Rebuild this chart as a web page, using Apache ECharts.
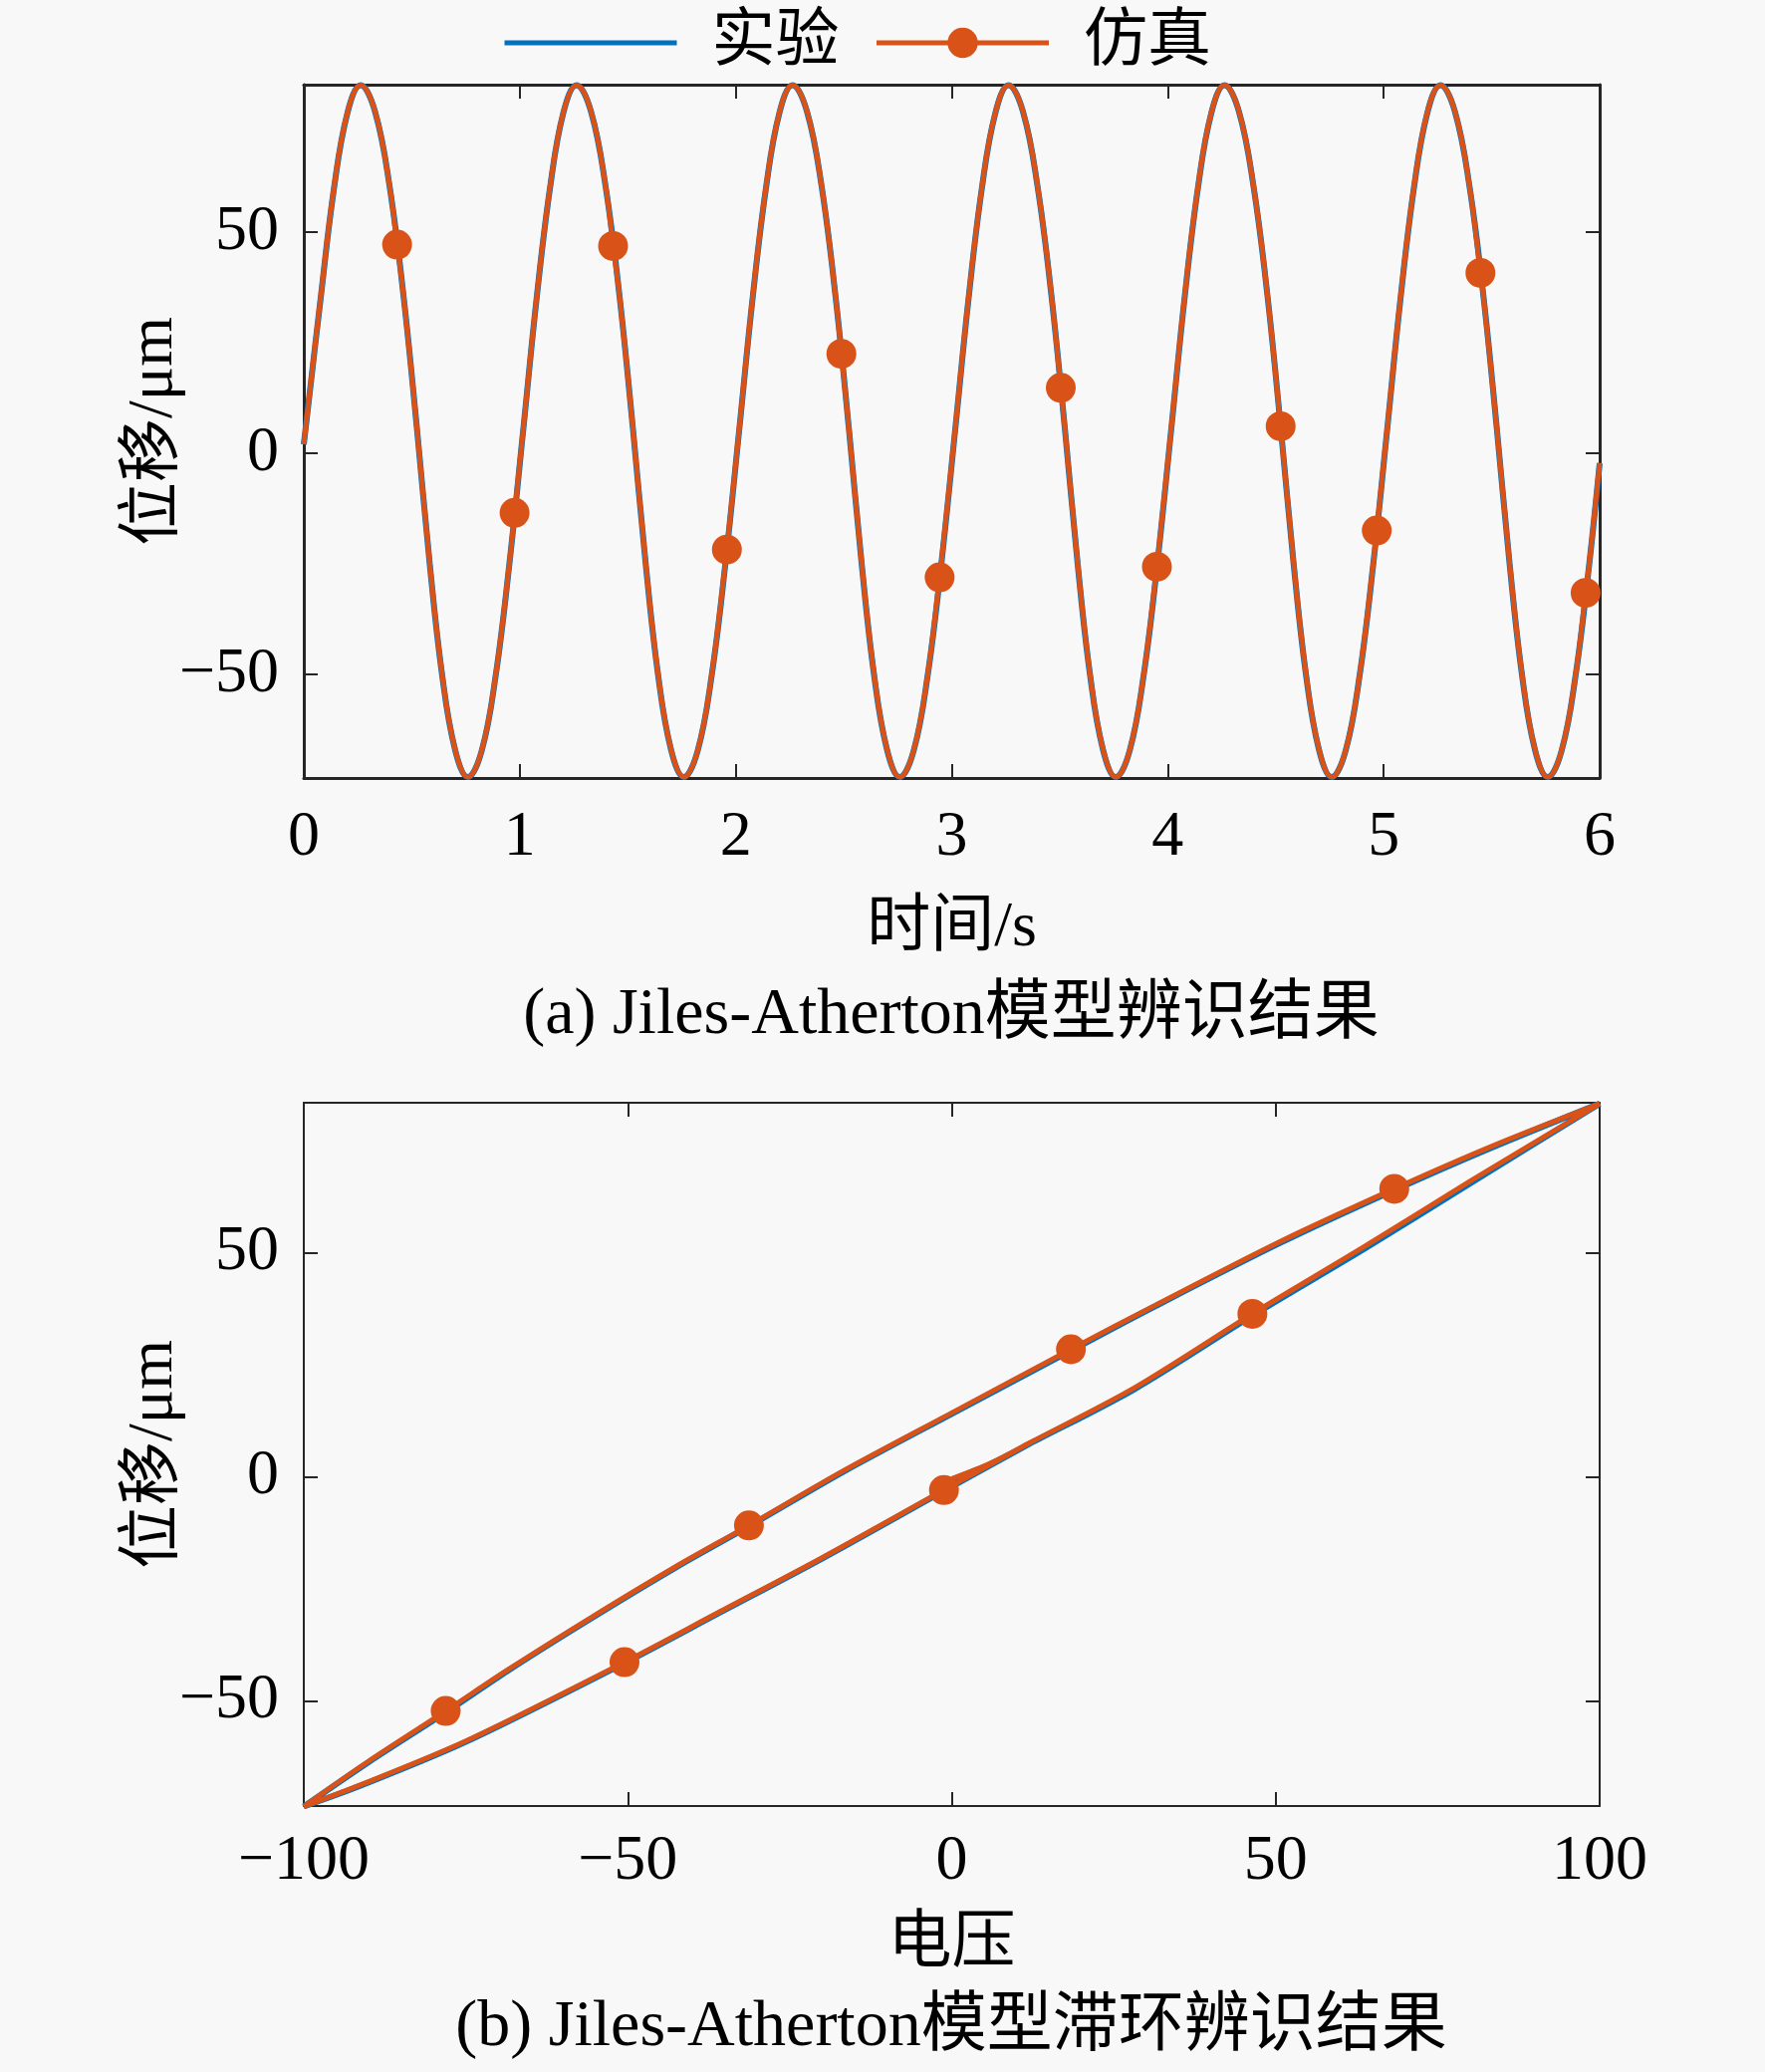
<!DOCTYPE html>
<html>
<head>
<meta charset="utf-8">
<title>Jiles-Atherton</title>
<script src="https://cdn.jsdelivr.net/npm/echarts@6/dist/echarts.min.js"></script>
<style>
  html, body { margin: 0; padding: 0; background: #f8f8f8; }
  #main { width: 1772px; height: 2080px; }
</style>
</head>
<body>
<div id="main"></div>
<script>
// (a) displacement vs time
var timeS = [
  0, 0.078, 0.140, 0.202, 0.263, 0.330, 0.397, 0.462, 0.524, 0.583, 0.640, 0.700, 0.760, 0.824, 0.888, 0.952,
  1.0155, 1.078, 1.140, 1.202, 1.263, 1.330, 1.397, 1.462, 1.524, 1.583, 1.640, 1.700, 1.760, 1.824, 1.888, 1.952,
  2.0155, 2.078, 2.140, 2.202, 2.263, 2.330, 2.397, 2.462, 2.524, 2.583, 2.640, 2.700, 2.760, 2.824, 2.888, 2.952,
  3.0155, 3.078, 3.140, 3.202, 3.263, 3.330, 3.397, 3.462, 3.524, 3.583, 3.640, 3.700, 3.760, 3.824, 3.888, 3.952,
  4.0155, 4.078, 4.140, 4.202, 4.263, 4.330, 4.397, 4.462, 4.524, 4.583, 4.640, 4.700, 4.760, 4.824, 4.888, 4.952,
  5.0155, 5.078, 5.140, 5.202, 5.263, 5.330, 5.397, 5.462, 5.524, 5.583, 5.640, 5.700, 5.760, 5.824, 5.888, 5.952,
  6
];
var expDisp = [
  2, 35, 60, 77, 83.3, 77.3, 60.5, 35.5, 5.5, -25, -50, -67, -73.3, -67.3, -50.5, -25,
  5, 35, 60, 77.1, 83.3, 77.3, 60.5, 35.5, 5.5, -25, -50, -67, -73.3, -67.3, -50.5, -25,
  5, 35, 60, 77, 83.3, 77.3, 60.6, 35.5, 5.5, -25, -50, -67, -73.3, -67.3, -50.5, -25,
  5, 35, 60.1, 77, 83.3, 77.3, 60.5, 35.5, 5.5, -25, -50, -67, -73.3, -67.3, -50.5, -25,
  5, 35, 60, 77, 83.3, 77.3, 60.5, 35.6, 5.5, -25, -50, -67, -73.3, -67.3, -50.5, -25,
  5, 35, 60, 77, 83.3, 77.3, 60.5, 35.5, 5.5, -25, -50, -67, -73.3, -67.3, -50.5, -25,
  -2.3
];
var simDisp = [
  2, 35.2, 60.2, 77.1, 83.3, 77.4, 60.6, 35.6, 5.6, -24.8, -49.8, -66.9, -73.3, -67.2, -50.4, -24.9,
  5.1, 35.2, 60.2, 77.2, 83.3, 77.4, 60.6, 35.6, 5.6, -24.8, -49.8, -66.9, -73.3, -67.2, -50.4, -24.9,
  5.1, 35.2, 60.2, 77.1, 83.3, 77.4, 60.7, 35.6, 5.6, -24.8, -49.8, -66.9, -73.3, -67.2, -50.4, -24.9,
  5.1, 35.2, 60.2, 77.1, 83.3, 77.4, 60.6, 35.6, 5.6, -24.8, -49.8, -66.9, -73.3, -67.2, -50.4, -24.9,
  5.1, 35.2, 60.2, 77.1, 83.3, 77.4, 60.6, 35.7, 5.6, -24.8, -49.8, -66.9, -73.3, -67.2, -50.4, -24.9,
  5.1, 35.2, 60.2, 77.1, 83.3, 77.4, 60.6, 35.6, 5.6, -24.8, -49.8, -66.9, -73.3, -67.2, -50.4, -24.9,
  -2.2
];
var markTime = [0.432, 0.976, 1.432, 1.959, 2.489, 2.944, 3.505, 3.950, 4.523, 4.968, 5.448, 5.935];
var markDisp = [47.2, -13.5, 46.9, -21.8, 22.5, -28.1, 14.8, -25.7, 6.1, -17.5, 40.8, -31.6];

// (b) hysteresis loop, displacement vs voltage
var expLoopVolt = [0, 6, 12, 28.2, 46.4, 63.8, 79.9, 100, 83.2, 68.3, 50.8, 31.4, 18.4, 0, -16.7, -31.3, -42.6, -55.6, -68.5, -78.1, -90, -100, -91.1, -75, -50.5, -36.1, -20, -1.2, 12];
var expLoopDisp = [-0.7, 2.8, 7.3, 19.5, 35.9, 50.9, 65.3, 83.2, 73.3, 63.9, 52.2, 38, 28.1, 14, 1.1, -11.1, -20.3, -31.6, -43.3, -52.6, -63.7, -73.6, -68.9, -59.2, -41.6, -30.6, -18.3, -3.2, 7.3];
var simLoopVolt = [0, 6, 12, 28.2, 46.4, 63.8, 79.9, 100, 83.2, 68.3, 50.8, 31.4, 18.4, 0, -16.7, -31.3, -42.6, -55.6, -68.5, -78.1, -90, -100, -91.1, -75, -50.5, -36.1, -20, -1.2, 12];
var simLoopDisp = [-0.5, 3, 7.5, 19.8, 36.3, 51.4, 65.8, 83.2, 73.6, 64.2, 52.5, 38.2, 28.4, 14.2, 1.3, -10.9, -20.1, -31.4, -43.1, -52.3, -63.5, -73.6, -68.7, -59, -41.4, -30.4, -18.1, -3.0, 7.5];
var loopMarkVolt = [-78.1, -50.5, -31.3, -1.2, 18.4, 46.4, 68.3];

var dispTicks = [-50, 0, 50];

var FONT = "'Liberation Serif', 'Times New Roman', 'Noto Sans CJK SC'";
var BLUE = '#0072BD', ORANGE = '#D95319';

function pairs(xs, ys) {
  return xs.map(function (x, i) { return [x, ys[i]]; });
}
// curve points with no symbol, marker points inserted in time order
function withMarks(xs, ys, mx, my) {
  var pts = xs.map(function (x, i) { return { value: [x, ys[i]], symbol: 'none' }; });
  mx.forEach(function (x, i) { pts.push({ value: [x, my[i]] }); });
  pts.sort(function (a, b) { return a.value[0] - b.value[0]; });
  return pts;
}
function loopWithMarks(xs, ys, mx) {
  return xs.map(function (x, i) {
    var item = { value: [x, ys[i]] };
    if (mx.indexOf(x) < 0 || i === xs.length - 1) item.symbol = 'none';
    return item;
  });
}
function minus(v) { return String(v).replace('-', '\u2212'); }

function xAx(grid, min, max, interval, pos, bw, name, gap, margin) {
  return {
    gridIndex: grid, type: 'value', min: min, max: max, interval: interval, position: pos,
    name: name, nameLocation: 'middle', nameGap: gap,
    nameTextStyle: { fontFamily: FONT, fontSize: 64, color: '#000' },
    axisLine: { show: true, onZero: false, lineStyle: { color: '#262626', width: bw } },
    axisTick: { show: true, inside: true, length: 14, lineStyle: { color: '#262626', width: 2 } },
    axisLabel: { show: pos === 'bottom', margin: margin, fontFamily: FONT, fontSize: 64, color: '#000',
      showMinLabel: true, showMaxLabel: true, formatter: minus },
    splitLine: { show: false }
  };
}
function yAx(grid, pos, bw, name) {
  return {
    gridIndex: grid, type: 'value', min: -73.5, max: 83.4, position: pos,
    name: name, nameLocation: 'middle', nameGap: 118, nameMoveOverlap: false,
    nameTextStyle: { fontFamily: FONT, fontSize: 64, color: '#000' },
    axisLine: { show: true, onZero: false, lineStyle: { color: '#262626', width: bw } },
    axisTick: { show: true, inside: true, length: 14, customValues: dispTicks, lineStyle: { color: '#262626', width: 2 } },
    axisLabel: { show: pos === 'left', margin: 25, customValues: dispTicks, fontFamily: FONT, fontSize: 64, color: '#000', formatter: minus },
    splitLine: { show: false }
  };
}

var chart = echarts.init(document.getElementById('main'));
chart.setOption({
  backgroundColor: '#f8f8f8',
  animation: false,
  legend: {
    left: 499, top: 6, itemWidth: 173, itemHeight: 38, itemGap: 35,
    data: [{ name: '实验', itemStyle: { opacity: 0 } }, { name: '仿真' }],
    lineStyle: { width: 5 },
    textStyle: { fontFamily: FONT, fontSize: 64, color: '#000', padding: [0, 0, 0, 30] }
  },
  grid: [
    { left: 305, top: 85, width: 1301, height: 696 },
    { left: 305, top: 1107, width: 1301, height: 706 }
  ],
  xAxis: [
    xAx(0, 0, 6, 1, 'bottom', 3, '时间/s', 119, 28),
    xAx(0, 0, 6, 1, 'top', 3, '', 0, 0),
    xAx(1, -100, 100, 50, 'bottom', 2, '电压', 107, 24),
    xAx(1, -100, 100, 50, 'top', 2, '', 0, 0)
  ],
  yAxis: [
    yAx(0, 'left', 3, '位移/μm'),
    yAx(0, 'right', 3, ''),
    yAx(1, 'left', 2, '位移/μm'),
    yAx(1, 'right', 2, '')
  ],
  series: [
    {
      name: '实验', type: 'line', xAxisIndex: 0, yAxisIndex: 0, smooth: 0.4,
      symbol: 'none', lineStyle: { color: BLUE, width: 6 }, itemStyle: { color: BLUE },
      data: pairs(timeS, expDisp)
    },
    {
      name: '仿真', type: 'line', xAxisIndex: 0, yAxisIndex: 0, smooth: 0.4,
      symbol: 'circle', symbolSize: 30, showSymbol: true,
      lineStyle: { color: ORANGE, width: 5 }, itemStyle: { color: ORANGE },
      data: withMarks(timeS, simDisp, markTime, markDisp)
    },
    {
      name: '实验', type: 'line', xAxisIndex: 2, yAxisIndex: 2, smooth: 0.3,
      symbol: 'none', lineStyle: { color: BLUE, width: 6 }, itemStyle: { color: BLUE },
      data: pairs(expLoopVolt, expLoopDisp)
    },
    {
      name: '仿真', type: 'line', xAxisIndex: 2, yAxisIndex: 2, smooth: 0.3,
      symbol: 'circle', symbolSize: 30, showSymbol: true,
      lineStyle: { color: ORANGE, width: 5 }, itemStyle: { color: ORANGE },
      data: loopWithMarks(simLoopVolt, simLoopDisp, loopMarkVolt)
    }
  ],
  graphic: [
    { type: 'text', style: { x: 955, y: 1020, text: '(a) Jiles-Atherton模型辨识结果', font: '66px ' + FONT, fill: '#000', align: 'center', verticalAlign: 'middle' } },
    { type: 'text', style: { x: 955, y: 2036, text: '(b) Jiles-Atherton模型滞环辨识结果', font: '66px ' + FONT, fill: '#000', align: 'center', verticalAlign: 'middle' } }
  ]
});
</script>
</body>
</html>
